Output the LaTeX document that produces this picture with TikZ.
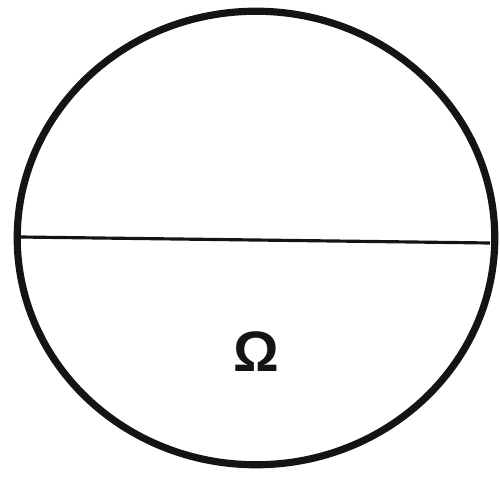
\documentclass[tikz,border=0pt]{standalone}
\usepackage{fontspec}
\setmainfont{Liberation Sans}
\usepackage{tikz}
\usetikzlibrary{shapes.geometric}
\definecolor{outline}{RGB}{20,20,20}
\tikzset{
    ring/.style = {draw = outline, line width = 6.8pt, ellipse, minimum width = 15.9cm, minimum height = 15.1cm, inner sep = 0pt},
    chord/.style = {draw = outline, line width = 3pt}
}
\begin{document}
\begin{tikzpicture}[x=0.0333cm,y=-0.0333cm]
    \useasboundingbox (0,0) rectangle (500,478);
    \node[ring] (disc) at (256,238) {};
    \coordinate (chordleft) at (20,237);
    \coordinate (chordright) at (490,243);
    \draw[chord] (chordleft) -- (chordright);
    \node[inner sep = 0pt, text = outline, font = \fontsize{54}{54}\selectfont\bfseries] (omega) at (256,352) {Ω};
\end{tikzpicture}
\end{document}
